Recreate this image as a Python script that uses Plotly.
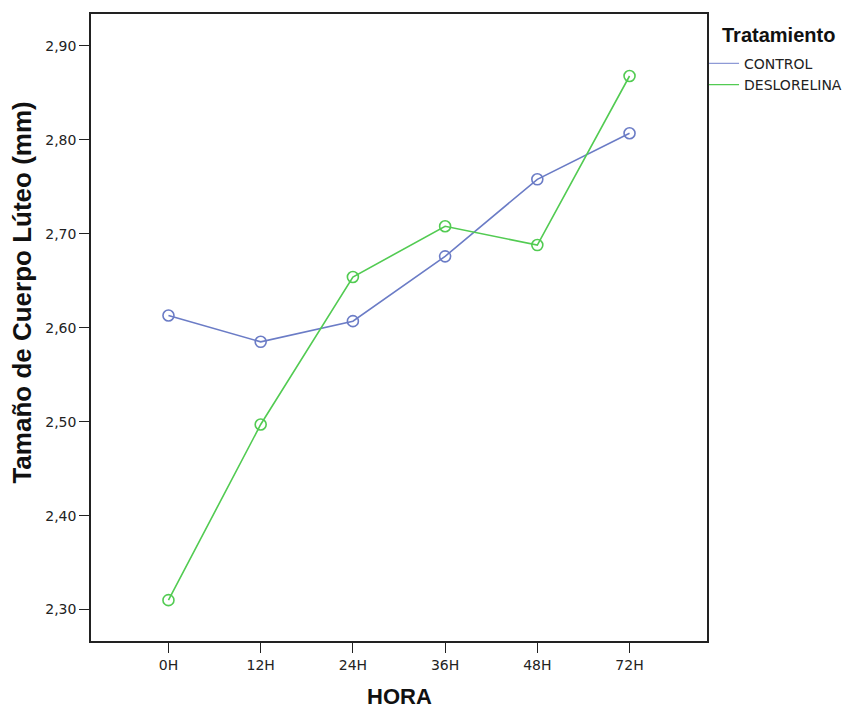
import plotly.graph_objects as go

hours = ["0H", "12H", "24H", "36H", "48H", "72H"]
control = [2.613, 2.585, 2.607, 2.676, 2.758, 2.807]
deslorelina = [2.310, 2.497, 2.654, 2.708, 2.688, 2.868]
series_names = ["CONTROL", "DESLORELINA"]
colors = ["#6b7cc6", "#52cb52"]
legend_colors = ["#8e9ad6", "#52cb52"]

TICK_FONT = "DejaVu Sans, Liberation Sans, Arial, sans-serif"
BOLD_FONT = "Liberation Sans, Arial, sans-serif"

fig = go.Figure()
for name, vals, col, lcol in zip(series_names, [control, deslorelina], colors, legend_colors):
    fig.add_trace(go.Scatter(
        x=list(range(len(hours))), y=vals, mode="lines+markers", name=name,
        line=dict(color=col, width=1.6),
        marker=dict(symbol="circle-open", size=11, color=col, line=dict(width=1.6)),
        showlegend=False,
    ))
    fig.add_trace(go.Scatter(
        x=[None], y=[None], mode="lines", name=name,
        line=dict(color=lcol, width=1.3), showlegend=True,
    ))

fig.update_layout(
    width=851, height=709,
    margin=dict(l=83, r=152, t=4, b=76),
    paper_bgcolor="white", plot_bgcolor="white",
    separators=",.",
    font=dict(family=TICK_FONT, size=14, color="#222"),
    legend=dict(
        x=0.9952, xanchor="left", y=0.946, yanchor="top",
        font=dict(family=TICK_FONT, size=14, color="#222"),
        bgcolor="rgba(0,0,0,0)",
        tracegroupgap=0, itemwidth=30,
    ),
    xaxis=dict(
        tickmode="array", tickvals=list(range(len(hours))), ticktext=hours,
        range=[-0.84, 5.84],
        showgrid=False, zeroline=False,
        showline=True, linecolor="#222", linewidth=1.5, mirror=True,
        ticks="outside", ticklen=10, tickcolor="#222",
        tickfont=dict(family=TICK_FONT, size=14, color="#222"),
    ),
    yaxis=dict(
        range=[2.2665, 2.934], tickvals=[2.3, 2.4, 2.5, 2.6, 2.7, 2.8, 2.9],
        tickformat=".2f",
        showgrid=False, zeroline=False,
        showline=True, linecolor="#222", linewidth=1.5, mirror=True,
        ticks="outside", ticklen=10, tickcolor="#222",
        tickfont=dict(family=TICK_FONT, size=14, color="#222"),
    ),
    annotations=[
        dict(text="<b>Tamaño de Cuerpo Lúteo (mm)</b>", xref="paper", yref="paper",
             x=-0.112, y=0.5557, xanchor="center", yanchor="middle", textangle=-90,
             showarrow=False, font=dict(family=BOLD_FONT, size=26, color="#111")),
        dict(text="<b>HORA</b>", xref="paper", yref="paper",
             x=0.5016, y=-0.089, xanchor="center", yanchor="middle",
             showarrow=False, font=dict(family=BOLD_FONT, size=22, color="#111")),
        dict(text="<b>Tratamiento</b>", xref="paper", yref="paper",
             x=1.0211, y=0.9666, xanchor="left", yanchor="middle",
             showarrow=False, font=dict(family=BOLD_FONT, size=20, color="#111")),
    ],
)

fig.write_html("out.html")
